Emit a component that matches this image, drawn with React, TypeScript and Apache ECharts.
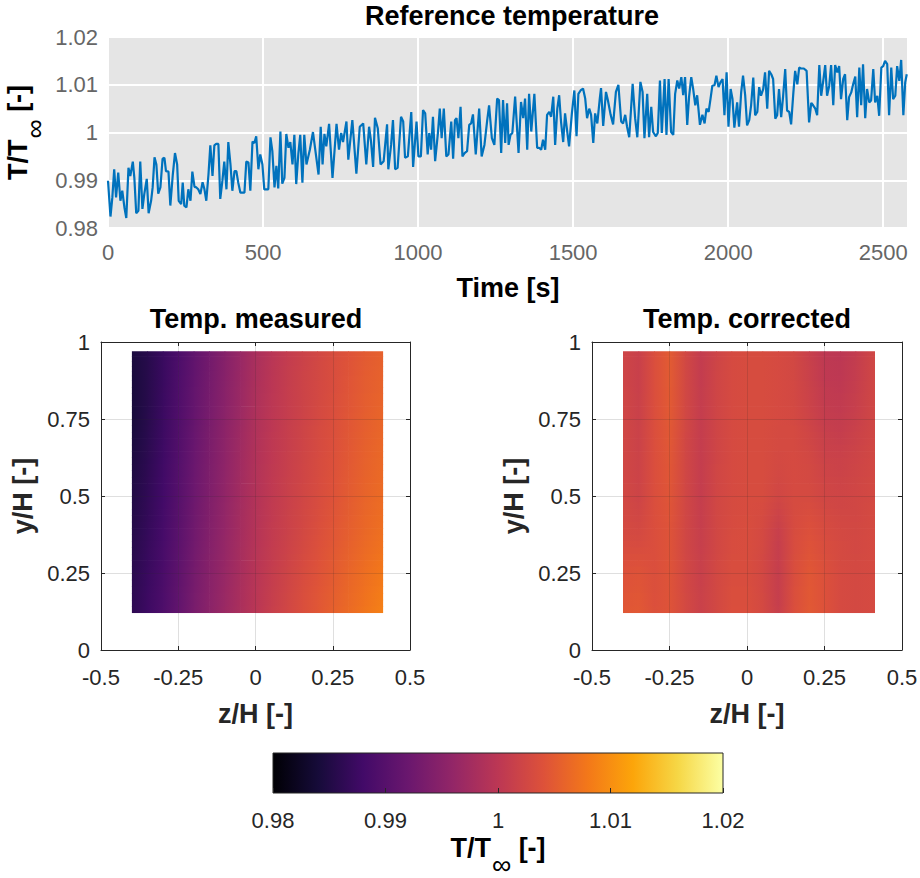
import React, { useEffect, useRef } from "react";
import * as echarts from "echarts";

// ---------- DATA ----------
// Reference temperature time series: [time (s), T/Tinf (-)]
const tempSeries: [number, number][] = [
  [0, 0.9899], [8, 0.9824], [14, 0.9864], [20, 0.9923], [26, 0.9864], [33, 0.9916], [40, 0.9857], [46, 0.9878],
  [53, 0.9843], [59, 0.9821], [66, 0.9926], [72, 0.9909], [80, 0.9939], [85, 0.9905], [91, 0.9831], [98, 0.9836],
  [104, 0.9939], [111, 0.984], [117, 0.9871], [125, 0.9903], [131, 0.9831], [139, 0.9857], [144, 0.9885], [150, 0.9948],
  [156, 0.9933], [162, 0.9872], [169, 0.9885], [176, 0.9945], [182, 0.9947], [187, 0.9919], [195, 0.9918], [201, 0.9847],
  [209, 0.9912], [216, 0.9957], [223, 0.9933], [228, 0.9857], [236, 0.985], [241, 0.9895], [246, 0.9847], [253, 0.9843],
  [259, 0.9881], [266, 0.9857], [272, 0.9918], [279, 0.9886], [285, 0.9885], [291, 0.9881], [298, 0.9871], [305, 0.9896],
  [311, 0.9881], [317, 0.9857], [324, 0.9912], [330, 0.9973], [337, 0.9909], [343, 0.9973], [349, 0.9976], [356, 0.9976],
  [362, 0.9861], [369, 0.9899], [375, 0.9939], [382, 0.9881], [388, 0.998], [395, 0.9933], [401, 0.9878], [408, 0.9919],
  [414, 0.9919], [420, 0.9895], [427, 0.9874], [433, 0.9874], [440, 0.9874], [446, 0.9939], [453, 0.9937], [459, 0.9878],
  [466, 0.9981], [472, 0.9978], [478, 0.9992], [485, 0.9923], [491, 0.9954], [498, 0.9933], [504, 0.9881], [511, 0.9881],
  [517, 0.9881], [524, 0.999], [530, 0.9961], [537, 0.9885], [543, 0.993], [549, 0.9883], [556, 1.0002], [562, 0.9893],
  [569, 0.9905], [575, 0.9997], [582, 0.9968], [588, 0.998], [595, 0.9933], [601, 0.9995], [607, 0.9892], [614, 0.9957],
  [620, 0.9995], [627, 0.9895], [633, 0.9995], [640, 0.9933],
  [651, 0.9964], [661, 1.0001], [679, 0.9912], [686, 1.0012], [692, 0.9933], [698, 0.9997], [704, 0.9971], [713, 1.0018],
  [724, 0.9905], [737, 1.0018], [745, 0.9964], [752, 0.9999], [758, 0.998], [769, 1.0023], [775, 0.9943], [788, 1.0026],
  [801, 0.9914], [812, 1.0012], [823, 1.0019], [833, 0.9933], [842, 1.0012], [848, 0.9983], [855, 0.9928], [861, 1.0031],
  [870, 1.0009], [879, 0.9933], [889, 0.994], [900, 1.0017], [904, 0.9923], [913, 0.9974], [919, 1.0026], [926, 0.9923],
  [934, 0.9926], [945, 1.0033], [952, 1.0023], [958, 0.9947], [967, 0.995], [978, 1.0043], [984, 0.9928], [995, 1.0023],
  [1001, 0.995], [1009, 0.995], [1016, 1.0047], [1023, 1.004], [1031, 0.9954], [1036, 0.9999], [1042, 0.9964], [1048, 1.0033],
  [1055, 0.994], [1064, 0.9999], [1070, 1.005], [1076, 0.9988], [1083, 1.005], [1091, 0.995], [1098, 0.9954], [1107, 1.0023],
  [1113, 0.9945], [1119, 1.0026], [1124, 1.003], [1130, 0.9988], [1137, 1.0054], [1143, 0.995], [1150, 0.9957], [1158, 0.9961],
  [1165, 1.0016], [1171, 1.0019], [1177, 1.0038], [1186, 0.9954], [1197, 1.005], [1205, 0.995], [1214, 0.9974], [1223, 1.0026],
  [1229, 1.0057], [1238, 0.9988], [1246, 0.9974], [1255, 1.0071], [1261, 1.0068], [1268, 0.9957], [1274, 1.0068],
  [1281, 0.9978], [1287, 1.0061], [1292, 0.9974], [1298, 0.9995], [1304, 0.9999], [1313, 1.0075], [1324, 0.9957], [1332, 1.0064],
  [1339, 1.003], [1345, 1.0071], [1352, 0.9964], [1358, 1.0081], [1365, 1.0002], [1375, 1.0081], [1384, 0.9968], [1390, 0.9968],
  [1397, 0.9964], [1403, 0.9985], [1410, 0.9964], [1416, 1.0037], [1423, 1.0043], [1429, 1.0033], [1436, 1.0075], [1442, 0.9974],
  [1449, 1.005], [1455, 1.0078], [1461, 1.0023], [1468, 0.998], [1474, 1.004], [1481, 1.0002], [1487, 0.9971], [1496, 1.004],
  [1504, 1.0088], [1511, 0.9992], [1517, 1.0081], [1524, 1.0088], [1532, 1.0092], [1539, 1.0071], [1545, 1.003], [1552, 1.005],
  [1558, 1.0037], [1565, 0.9978], [1571, 1.004], [1578, 1.0019], [1586, 1.0071], [1590, 1.0093], [1597, 1.0014], [1606, 1.0085],
  [1612, 1.0068], [1621, 1.0037], [1629, 1.0017], [1638, 1.0085], [1646, 1.01], [1655, 1.0023], [1661, 1.0019], [1668, 1.0037],
  [1674, 1.0012], [1681, 0.999], [1692, 1.0102], [1700, 1.003], [1707, 0.999], [1717, 1.0106], [1724, 1.0085], [1730, 0.9988],
  [1739, 1.0081], [1745, 0.999], [1752, 1.0054], [1758, 1.0001], [1767, 0.9992], [1773, 0.9999], [1780, 1.0109], [1786, 0.9999],
  [1795, 1.0112], [1801, 0.9995], [1808, 1.0112], [1816, 1.0001], [1823, 0.9995], [1829, 1.0081], [1836, 1.0109], [1842, 1.0092],
  [1849, 1.0116], [1855, 1.0078], [1861, 1.0116], [1868, 1.0016], [1874, 1.0075], [1881, 1.0116], [1887, 1.0092], [1894, 1.0057],
  [1900, 1.0078], [1909, 1.0016], [1917, 1.0037],
  [1924, 1.0019], [1930, 1.005], [1937, 1.0043], [1943, 1.007], [1949, 1.0098], [1956, 1.0099], [1962, 1.0119], [1969, 1.0095],
  [1975, 1.0105], [1982, 1.0112], [1988, 1.0036], [1995, 1.0126], [2001, 1.0012], [2008, 1.0091], [2014, 1.007], [2020, 1.001],
  [2029, 1.0063], [2035, 1.0012], [2042, 1.0084], [2048, 1.0119], [2055, 1.0077], [2061, 1.0015], [2068, 1.0026], [2074, 1.0057],
  [2081, 1.0115], [2087, 1.0036], [2094, 1.0043], [2100, 1.0095], [2106, 1.0077], [2113, 1.0091], [2119, 1.0126], [2126, 1.005],
  [2132, 1.0129], [2139, 1.0122], [2145, 1.0112], [2152, 1.0029], [2158, 1.0036], [2164, 1.0091], [2171, 1.0032], [2177, 1.0074],
  [2184, 1.0133], [2190, 1.0046], [2197, 1.0043], [2203, 1.0017], [2210, 1.0081], [2216, 1.0129], [2223, 1.0101], [2229, 1.0136],
  [2235, 1.0134], [2244, 1.0134], [2253, 1.0129], [2261, 1.0021], [2268, 1.0062], [2274, 1.0057], [2281, 1.005], [2287, 1.0036],
  [2294, 1.0141], [2300, 1.0077], [2306, 1.0105], [2313, 1.0141], [2319, 1.0077], [2326, 1.0098], [2332, 1.0141], [2339, 1.0057],
  [2345, 1.0141], [2352, 1.0126], [2358, 1.0139], [2364, 1.007], [2371, 1.0112], [2377, 1.0122], [2384, 1.0026], [2390, 1.0074],
  [2397, 1.0084], [2403, 1.0101], [2410, 1.0117], [2416, 1.0032], [2423, 1.0136], [2429, 1.0057], [2435, 1.0143], [2442, 1.003],
  [2448, 1.0091], [2455, 1.0063], [2461, 1.0067], [2468, 1.0133], [2474, 1.0063], [2481, 1.0077], [2487, 1.0035], [2494, 1.0136],
  [2500, 1.0139], [2506, 1.015], [2513, 1.0143], [2519, 1.0036], [2526, 1.0136], [2532, 1.007], [2539, 1.0077], [2545, 1.0139],
  [2552, 1.0108], [2558, 1.0152], [2565, 1.0036], [2571, 1.0105], [2576, 1.0122],
];

// Heatmap grid nodes
const zCols = [-0.4, -0.35, -0.3, -0.25, -0.2, -0.15, -0.1, -0.05, 0, 0.05, 0.1, 0.15, 0.2, 0.25, 0.3, 0.35, 0.413];
const yRows = [0.12, 0.25, 0.375, 0.5, 0.625, 0.75, 0.875, 0.97];

// Temp. measured, rows bottom (y=0.12) to top (y=0.97)
const measured: number[][] = [
  [0.9862, 0.9876, 0.9892, 0.9912, 0.9934, 0.9952, 0.9968, 0.9983, 0.9998, 1.0012, 1.0024, 1.0036, 1.0046, 1.0056, 1.0066, 1.0076, 1.0088],
  [0.9858, 0.9872, 0.9888, 0.9908, 0.993, 0.9948, 0.9964, 0.998, 0.9996, 1.0009, 1.002, 1.0031, 1.0041, 1.005, 1.006, 1.0069, 1.008],
  [0.9854, 0.9868, 0.9884, 0.9904, 0.9926, 0.9944, 0.9961, 0.9977, 0.9993, 1.0006, 1.0016, 1.0026, 1.0036, 1.0045, 1.0054, 1.0063, 1.0072],
  [0.985, 0.9864, 0.988, 0.99, 0.9922, 0.994, 0.9958, 0.9975, 0.9991, 1.0004, 1.0014, 1.0023, 1.0032, 1.0041, 1.005, 1.0059, 1.0067],
  [0.9846, 0.986, 0.9877, 0.9897, 0.9919, 0.9937, 0.9955, 0.9972, 0.9989, 1.0002, 1.0012, 1.0021, 1.003, 1.0038, 1.0047, 1.0056, 1.0064],
  [0.9841, 0.9856, 0.9874, 0.9894, 0.9915, 0.9934, 0.9952, 0.9969, 0.9987, 1.0, 1.001, 1.0019, 1.0028, 1.0036, 1.0045, 1.0053, 1.0061],
  [0.9842, 0.9855, 0.9872, 0.9892, 0.9912, 0.993, 0.9948, 0.9966, 0.9984, 0.9998, 1.0009, 1.0018, 1.0026, 1.0034, 1.0043, 1.0051, 1.0058],
  [0.9845, 0.9856, 0.9872, 0.989, 0.991, 0.9928, 0.9946, 0.9964, 0.9982, 0.9996, 1.0008, 1.0017, 1.0025, 1.0033, 1.0041, 1.0049, 1.0056],
];

// Temp. corrected, rows bottom (y=0.12) to top (y=0.97)
const corrected: number[][] = [
  [1.0046, 1.0048, 1.0038, 1.0042, 1.0028, 1.0016, 1.0026, 1.0036, 1.0036, 1.0028, 1.0012, 1.0036, 1.0048, 1.004, 1.003, 1.0028, 1.003],
  [1.004, 1.0042, 1.0036, 1.0042, 1.0026, 1.0014, 1.0026, 1.0034, 1.0034, 1.0026, 1.001, 1.0034, 1.0046, 1.0038, 1.003, 1.0028, 1.003],
  [1.003, 1.0028, 1.0036, 1.0042, 1.0024, 1.0012, 1.0024, 1.0032, 1.0034, 1.0028, 1.0012, 1.0032, 1.004, 1.0032, 1.0028, 1.0026, 1.003],
  [1.0026, 1.002, 1.0036, 1.0044, 1.0024, 1.001, 1.0024, 1.003, 1.0032, 1.0032, 1.0024, 1.003, 1.003, 1.0024, 1.0022, 1.0024, 1.0028],
  [1.0024, 1.0018, 1.0036, 1.0046, 1.0024, 1.001, 1.0022, 1.003, 1.0032, 1.0032, 1.0028, 1.003, 1.0026, 1.0018, 1.0016, 1.002, 1.0026],
  [1.0024, 1.0016, 1.0036, 1.0048, 1.0026, 1.001, 1.0022, 1.003, 1.0032, 1.0032, 1.003, 1.0028, 1.002, 1.001, 1.0008, 1.0014, 1.0024],
  [1.0022, 1.0014, 1.0036, 1.005, 1.0026, 1.0008, 1.0022, 1.003, 1.0032, 1.0032, 1.003, 1.0026, 1.0016, 1.0004, 1.0002, 1.001, 1.0024],
  [1.0022, 1.0014, 1.0036, 1.005, 1.0026, 1.0008, 1.002, 1.003, 1.0032, 1.0032, 1.003, 1.0026, 1.0014, 1.0002, 1.0, 1.0008, 1.0024],
];

const colorRange = [0.98, 1.02];

// ---------- STYLE ----------
const FONT = "'Liberation Sans', Arial, Helvetica, sans-serif";
const INFERNO = ["#000004", "#160b39", "#420a68", "#6a176e", "#932667", "#bc3754", "#dd513a", "#f37819", "#fca50a", "#f6d746", "#fcffa4"];
const INF_RGB = INFERNO.map((h) => [parseInt(h.slice(1, 3), 16), parseInt(h.slice(3, 5), 16), parseInt(h.slice(5, 7), 16)]);

function inferno(v: number): string {
  let t = (v - colorRange[0]) / (colorRange[1] - colorRange[0]);
  t = Math.max(0, Math.min(1, t));
  const x = t * (INF_RGB.length - 1);
  const i = Math.min(INF_RGB.length - 2, Math.floor(x));
  const f = x - i;
  const a = INF_RGB[i], b = INF_RGB[i + 1];
  const c = [0, 1, 2].map((k) => Math.round(a[k] + (b[k] - a[k]) * f));
  return `rgb(${c[0]},${c[1]},${c[2]})`;
}

function buildCells(field: number[][]) {
  const cells: number[][] = [];
  for (let j = 0; j < yRows.length - 1; j++) {
    for (let i = 0; i < zCols.length - 1; i++) {
      cells.push([zCols[i], zCols[i + 1], yRows[j], yRows[j + 1], field[j][i], field[j][i + 1], field[j + 1][i], field[j + 1][i + 1]]);
    }
  }
  return cells;
}

function renderHeatCell(_params: any, api: any) {
  const z0 = api.value(0), z1 = api.value(1), y0 = api.value(2), y1 = api.value(3);
  const v00 = api.value(4), v10 = api.value(5), v01 = api.value(6), v11 = api.value(7);
  const tl = api.coord([z0, y1]);
  const br = api.coord([z1, y0]);
  const w = br[0] - tl[0], h = br[1] - tl[1];
  const N = 6;
  const lastCol = z1 === zCols[zCols.length - 1];
  const lastRow = y0 === yRows[0];
  const children: any[] = [];
  for (let k = 0; k < N; k++) {
    const s = 1 - (k + 0.5) / N;
    const lv = v00 + (v01 - v00) * s;
    const rv = v10 + (v11 - v10) * s;
    children.push({
      type: "rect",
      shape: {
        x: tl[0], y: tl[1] + (k * h) / N,
        width: w + (lastCol ? 0 : 0.7),
        height: h / N + (lastRow && k === N - 1 ? 0 : 0.7),
      },
      style: {
        fill: new echarts.graphic.LinearGradient(0, 0, 1, 0, [
          { offset: 0, color: inferno(lv) },
          { offset: 1, color: inferno(rv) },
        ]),
      },
    });
  }
  return { type: "group", children };
}

function renderColorbar(_params: any, api: any) {
  const tl = api.coord([api.value(0), 1]);
  const br = api.coord([api.value(1), 0]);
  return {
    type: "rect",
    shape: { x: tl[0], y: tl[1], width: br[0] - tl[0], height: br[1] - tl[1] },
    style: {
      fill: new echarts.graphic.LinearGradient(0, 0, 1, 0, INFERNO.map((c, i) => ({ offset: i / (INFERNO.length - 1), color: c }))),
      stroke: "#262626",
      lineWidth: 1,
    },
  };
}

const fmt2 = (v: number) => String(Math.round(v * 100) / 100);
const fmtInt = (v: number) => String(Math.round(v));

const TICK_SIZE = 22;
const LABEL_SIZE = 27;

const tinfRich = {
  a: { fontSize: LABEL_SIZE, fontWeight: "bold" as const, color: "#000", fontFamily: FONT },
  b: { fontSize: 27, color: "#000", fontFamily: FONT, padding: [34, 0, 0, 1] },
};

function heatAxesX(gridIndex: number) {
  return [
    {
      type: "value", gridIndex, min: -0.5, max: 0.5, interval: 0.25, position: "bottom", z: 5,
      axisLine: { show: true, onZero: false, lineStyle: { color: "#262626", width: 1 } },
      axisTick: { show: true, inside: true, length: 4, lineStyle: { color: "#262626" } },
      axisLabel: { color: "#262626", fontSize: TICK_SIZE, margin: 16, fontFamily: FONT, formatter: fmt2 },
      splitLine: { show: true, lineStyle: { color: "rgba(38,38,38,0.15)", width: 1 } },
      name: "z/H [-]", nameLocation: "middle", nameGap: 50, nameMoveOverlap: false,
      nameTextStyle: { fontSize: LABEL_SIZE, fontWeight: "bold", color: "#262626", fontFamily: FONT },
    },
    {
      type: "value", gridIndex, min: -0.5, max: 0.5, interval: 0.25, position: "top", z: 5,
      axisLine: { show: true, onZero: false, lineStyle: { color: "#262626", width: 1 } },
      axisTick: { show: true, inside: true, length: 4, lineStyle: { color: "#262626" } },
      axisLabel: { show: false },
      splitLine: { show: false },
    },
  ];
}

function heatAxesY(gridIndex: number) {
  return [
    {
      type: "value", gridIndex, min: 0, max: 1, interval: 0.25, position: "left", z: 5,
      axisLine: { show: true, onZero: false, lineStyle: { color: "#262626", width: 1 } },
      axisTick: { show: true, inside: true, length: 4, lineStyle: { color: "#262626" } },
      axisLabel: { color: "#262626", fontSize: TICK_SIZE, margin: 11, fontFamily: FONT, formatter: fmt2 },
      splitLine: { show: true, lineStyle: { color: "rgba(38,38,38,0.15)", width: 1 } },
      name: "y/H [-]", nameLocation: "middle", nameGap: 65, nameMoveOverlap: false,
      nameTextStyle: { fontSize: LABEL_SIZE, fontWeight: "bold", color: "#262626", fontFamily: FONT },
    },
    {
      type: "value", gridIndex, min: 0, max: 1, interval: 0.25, position: "right", z: 5,
      axisLine: { show: true, onZero: false, lineStyle: { color: "#262626", width: 1 } },
      axisTick: { show: true, inside: true, length: 4, lineStyle: { color: "#262626" } },
      axisLabel: { show: false },
      splitLine: { show: false },
    },
  ];
}

export default function App() {
  const ref = useRef<HTMLDivElement>(null);

  useEffect(() => {
    if (!ref.current) return;
    const chart = echarts.init(ref.current, undefined, { renderer: "svg" });
    const titleFont = `bold ${LABEL_SIZE}px ${FONT}`;

    const option: any = {
      animation: false,
      backgroundColor: "#ffffff",
      textStyle: { fontFamily: FONT },
      graphic: [
        { type: "text", x: 512, y: 16, style: { text: "Reference temperature", font: titleFont, fill: "#000", textAlign: "center", textVerticalAlign: "middle" } },
        { type: "text", x: 256, y: 319, style: { text: "Temp. measured", font: titleFont, fill: "#000", textAlign: "center", textVerticalAlign: "middle" } },
        { type: "text", x: 747, y: 319, style: { text: "Temp. corrected", font: titleFont, fill: "#000", textAlign: "center", textVerticalAlign: "middle" } },
      ],
      grid: [
        { left: 108, top: 37, width: 800, height: 191, show: true, backgroundColor: "#e5e5e5", borderWidth: 0, outerBoundsMode: "none", containLabel: false },
        { left: 101, top: 342, width: 309, height: 308, outerBoundsMode: "none", containLabel: false },
        { left: 592, top: 342, width: 310, height: 308, outerBoundsMode: "none", containLabel: false },
        { left: 273, top: 753, width: 450, height: 40, outerBoundsMode: "none", containLabel: false },
      ],
      xAxis: [
        {
          type: "value", gridIndex: 0, min: 0, max: 2580, interval: 500,
          axisLine: { show: false }, axisTick: { show: false },
          axisLabel: { color: "#666", fontSize: TICK_SIZE, margin: 13, fontFamily: FONT, showMaxLabel: false, formatter: fmtInt },
          splitLine: { show: true, lineStyle: { color: "#ffffff", width: 2 } },
          name: "Time [s]", nameLocation: "middle", nameGap: 46, nameMoveOverlap: false,
          nameTextStyle: { fontSize: LABEL_SIZE, fontWeight: "bold", color: "#000", fontFamily: FONT },
        },
        ...heatAxesX(1),
        ...heatAxesX(2),
        {
          type: "value", gridIndex: 3, min: 0.98, max: 1.02, interval: 0.01, position: "bottom", z: 5,
          axisLine: { show: false },
          axisTick: { show: true, inside: true, length: 5, lineStyle: { color: "#262626" } },
          axisLabel: { color: "#262626", fontSize: TICK_SIZE, margin: 16, fontFamily: FONT, formatter: fmt2 },
          splitLine: { show: false },
          name: "{a|T/T}{b|∞}{a| [-]}", nameLocation: "middle", nameGap: 24, nameMoveOverlap: false,
          nameTextStyle: { rich: tinfRich },
        },
      ],
      yAxis: [
        {
          type: "value", gridIndex: 0, min: 0.98, max: 1.02, interval: 0.01,
          axisLine: { show: false }, axisTick: { show: false },
          axisLabel: { color: "#666", fontSize: TICK_SIZE, margin: 10, fontFamily: FONT, formatter: fmt2 },
          splitLine: { show: true, lineStyle: { color: "#ffffff", width: 2 } },
          name: "{a|T/T}{b|∞}{a| [-]}", nameLocation: "middle", nameGap: 60, nameMoveOverlap: false,
          nameTextStyle: { rich: tinfRich },
        },
        ...heatAxesY(1),
        ...heatAxesY(2),
        { type: "value", gridIndex: 3, min: 0, max: 1, show: false },
      ],
      series: [
        {
          type: "line", xAxisIndex: 0, yAxisIndex: 0, data: tempSeries,
          showSymbol: false, symbol: "none", silent: true,
          lineStyle: { color: "#0072bd", width: 2.2 },
        },
        {
          type: "custom", xAxisIndex: 1, yAxisIndex: 1, data: buildCells(measured),
          encode: { x: [0, 1], y: [2, 3] }, renderItem: renderHeatCell, silent: true, clip: true,
        },
        {
          type: "custom", xAxisIndex: 3, yAxisIndex: 3, data: buildCells(corrected),
          encode: { x: [0, 1], y: [2, 3] }, renderItem: renderHeatCell, silent: true, clip: true,
        },
        {
          type: "custom", xAxisIndex: 5, yAxisIndex: 5, data: [colorRange],
          encode: { x: [0, 1] }, renderItem: renderColorbar, silent: true,
        },
      ],
    };

    chart.setOption(option);
    return () => chart.dispose();
  }, []);

  return <div ref={ref} style={{ position: "absolute", left: 0, top: 0, width: 920, height: 878 }} />;
}
